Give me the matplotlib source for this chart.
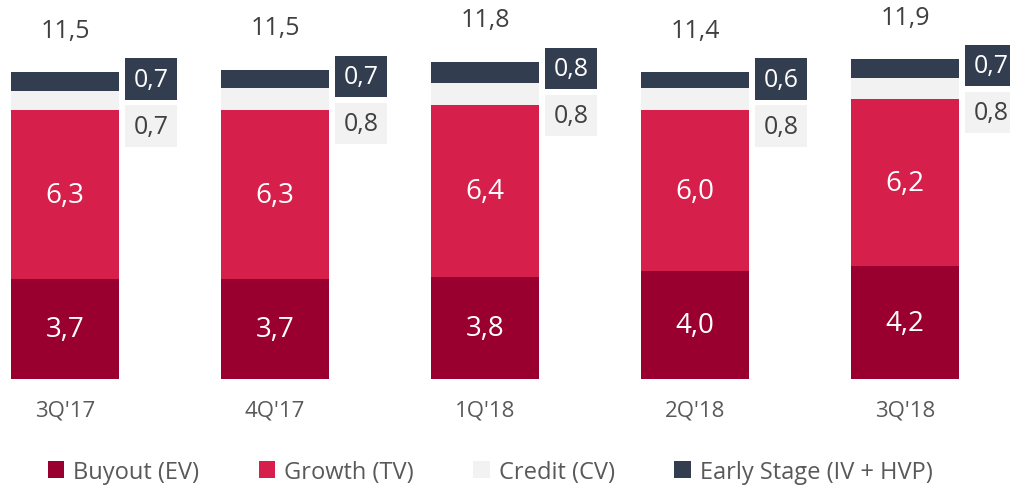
import numpy as np
import matplotlib.pyplot as plt

plt.rcParams['font.family'] = ['Open Sans', 'DejaVu Sans']

quarters = ["3Q'17", "4Q'17", "1Q'18", "2Q'18", "3Q'18"]
buyout = [3.7, 3.7, 3.8, 4.0, 4.2]
growth = [6.3, 6.3, 6.4, 6.0, 6.2]
credit = [0.7, 0.8, 0.8, 0.8, 0.8]
early = [0.7, 0.7, 0.8, 0.6, 0.7]
totals = [11.5, 11.5, 11.8, 11.4, 11.9]

c_buyout = '#990030'
c_growth = '#D61F4A'
c_credit = '#F2F2F2'
c_early = '#333D50'


def fmt(v):
    return f'{v:.1f}'.replace('.', ',')


fig = plt.figure(figsize=(10.10, 4.89), dpi=100)
ax = fig.add_axes([0, 109 / 489, 1, 380 / 489])

x = np.arange(len(quarters))
w = 0.514
b1 = np.array(buyout)
b2 = b1 + np.array(growth)
b3 = b2 + np.array(credit)
top = b3 + np.array(early)

ax.bar(x, buyout, w, color=c_buyout, label='Buyout (EV)')
ax.bar(x, growth, w, bottom=b1, color=c_growth, label='Growth (TV)')
ax.bar(x, credit, w, bottom=b2, color=c_credit, label='Credit (CV)')
ax.bar(x, early, w, bottom=b3, color=c_early, label='Early Stage (IV + HVP)')

for i in range(len(x)):
    ax.text(x[i], buyout[i] / 2, fmt(buyout[i]), ha='center', va='center',
            color='white', fontsize=20)
    ax.text(x[i], b1[i] + growth[i] / 2, fmt(growth[i]), ha='center', va='center',
            color='white', fontsize=20)
    ax.text(x[i], top[i] + 1.55, fmt(totals[i]), ha='center', va='center',
            color='#404040', fontsize=18)
    ye = top[i] - 0.25
    ax.text(x[i] + 0.41, ye - 1.75, fmt(credit[i]), ha='center', va='center',
            color='#404040', fontsize=18,
            bbox=dict(boxstyle='square,pad=0.33', fc=c_credit, ec='none'))
    ax.text(x[i] + 0.41, ye, fmt(early[i]), ha='center', va='center',
            color='white', fontsize=18,
            bbox=dict(boxstyle='square,pad=0.33', fc=c_early, ec='none'))
    ax.text(x[i], -1.15, quarters[i], ha='center', va='center',
            color='#595959', fontsize=16)

ax.set_xlim(-65 / 210, (1010 - 65) / 210)
ax.set_ylim(0, 380 / 26.9)
ax.axis('off')

fig.legend(loc='lower left', bbox_to_anchor=(0.026, -0.035), ncol=4, frameon=False,
           fontsize=17, handlelength=0.7, handleheight=0.7, handletextpad=0.4,
           columnspacing=2.5, labelcolor='#595959')

fig.savefig('out.png', dpi=100)
